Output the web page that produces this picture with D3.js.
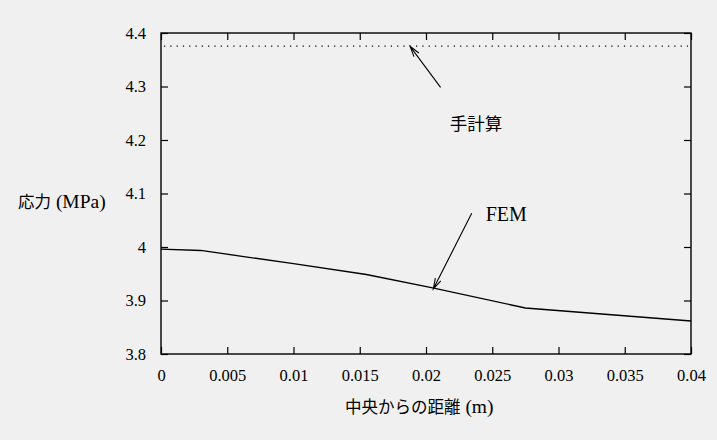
<!DOCTYPE html>
<html><head><meta charset="utf-8">
<script src="https://cdn.jsdelivr.net/npm/d3@7"></script>
<style>
html,body{margin:0;padding:0;background:#f0f0f0;}
svg{display:block;}
</style></head>
<body>
<svg id="c" width="717" height="440"></svg>
<script>
// Data
const xTicks = [0,0.005,0.01,0.015,0.02,0.025,0.03,0.035,0.04];
const xTickLabels = ["0","0.005","0.01","0.015","0.02","0.025","0.03","0.035","0.04"];
const yTicks = [3.8,3.9,4.0,4.1,4.2,4.3,4.4];
const yTickLabels = ["3.8","3.9","4","4.1","4.2","4.3","4.4"];
const femX = [0,0.003,0.01,0.0155,0.0205,0.0275,0.04];
const femY = [3.996,3.9935,3.969,3.9486,3.9234,3.886,3.8617];
const handCalc = 4.3755;
const handLabel = "手計算";
const femLabel = "FEM";
const arrowHand = [[0.0211,4.2985],[0.0188,4.375]];
const arrowFem = [[0.02345,4.063],[0.02055,3.9215]];
const handLabelPos = [0.0218,4.23];
const femLabelPos = [0.0245,4.062];
const xTitle = ["中央からの距離", " (m)"];
const yTitle = ["応力", " (MPa)"];

const SERIF = "'Liberation Serif'";
const CJK = "'Noto Sans CJK JP'";

const svg = d3.select("#c");
const L=161,R=691,T=33,B=354;
const x = d3.scaleLinear().domain([0,0.04]).range([L,R]);
const y = d3.scaleLinear().domain([3.8,4.4]).range([B,T]);

svg.append("rect").attr("width",717).attr("height",440).attr("fill","#f0f0f0");

function txt(parent,s,px,py,family,size){
  return parent.append("text").attr("x",px).attr("y",py)
    .style("font-family",family).style("font-size",size+"px").text(s);
}

// title & annotation text first
const t1=svg.append("text").attr("x",18).attr("y",208);
t1.append("tspan").style("font-family",CJK).style("font-size","16.5px").text(yTitle[0]);
t1.append("tspan").style("font-family",SERIF).style("font-size","19.5px").text(yTitle[1]);
const t2=svg.append("text").attr("x",345).attr("y",413);
t2.append("tspan").style("font-family",CJK).style("font-size","16.5px").text(xTitle[0]);
t2.append("tspan").style("font-family",SERIF).style("font-size","19.5px").text(xTitle[1]);
txt(svg,femLabel,x(femLabelPos[0]),y(femLabelPos[1])+7,SERIF,20);
txt(svg,handLabel,x(handLabelPos[0]),y(handLabelPos[1])+6,CJK,17.5);

// axes, drawn through d3 scales; inward ticks
const tk=7;
const gB = svg.append("g").attr("transform",`translate(0,${B})`)
  .call(d3.axisBottom(x).tickValues(xTicks).tickSizeInner(-tk).tickSizeOuter(0).tickPadding(tk+8)
  .tickFormat((d,i)=>xTickLabels[i]));
const gT = svg.append("g").attr("transform",`translate(0,${T})`)
  .call(d3.axisTop(x).tickValues(xTicks).tickSizeInner(-tk).tickSizeOuter(0).tickFormat(""));
const gL = svg.append("g").attr("transform",`translate(${L},0)`)
  .call(d3.axisLeft(y).tickValues(yTicks).tickSizeInner(-tk).tickSizeOuter(0).tickPadding(tk+8)
  .tickFormat((d,i)=>yTickLabels[i]));
const gR = svg.append("g").attr("transform",`translate(${R},0)`)
  .call(d3.axisRight(y).tickValues(yTicks).tickSizeInner(-tk).tickSizeOuter(0).tickFormat(""));
[gB,gT,gL,gR].forEach(g=>{
  g.attr("font-family",null).attr("font-size",null);
  g.select(".domain").remove();
  g.selectAll("line").attr("stroke","#000").attr("stroke-width",1.2);
  g.selectAll("text").style("font-family",SERIF).style("font-size","16.5px").attr("fill","#000");
});
gB.selectAll("text").attr("dy","0.71em");
svg.append("rect").attr("x",L).attr("y",T).attr("width",R-L).attr("height",B-T)
  .attr("fill","none").attr("stroke","#000").attr("stroke-width",1.4);

svg.append("line").attr("x1",x(0)+3).attr("x2",x(0.04)-3).attr("y1",y(handCalc)).attr("y2",y(handCalc))
  .attr("stroke","#000").attr("stroke-width",1.2).attr("stroke-dasharray","1.2,5.1");

const pts = femX.map((v,i)=>[v,femY[i]]);
svg.append("path").attr("d",d3.line().x(d=>x(d[0])).y(d=>y(d[1]))(pts))
  .attr("fill","none").attr("stroke","#000").attr("stroke-width",1.3);

function arrow(a){
  const x1=x(a[0][0]),y1=y(a[0][1]),x2=x(a[1][0]),y2=y(a[1][1]);
  const ang=Math.atan2(y2-y1,x2-x1), hl=11, ha=0.28;
  const p=d3.path();
  p.moveTo(x1,y1);p.lineTo(x2,y2);
  p.moveTo(x2-hl*Math.cos(ang-ha),y2-hl*Math.sin(ang-ha));p.lineTo(x2,y2);
  p.lineTo(x2-hl*Math.cos(ang+ha),y2-hl*Math.sin(ang+ha));
  svg.append("path").attr("d",p.toString()).attr("fill","none").attr("stroke","#000").attr("stroke-width",1.1);
}
arrow(arrowHand); arrow(arrowFem);
</script>
</body></html>
